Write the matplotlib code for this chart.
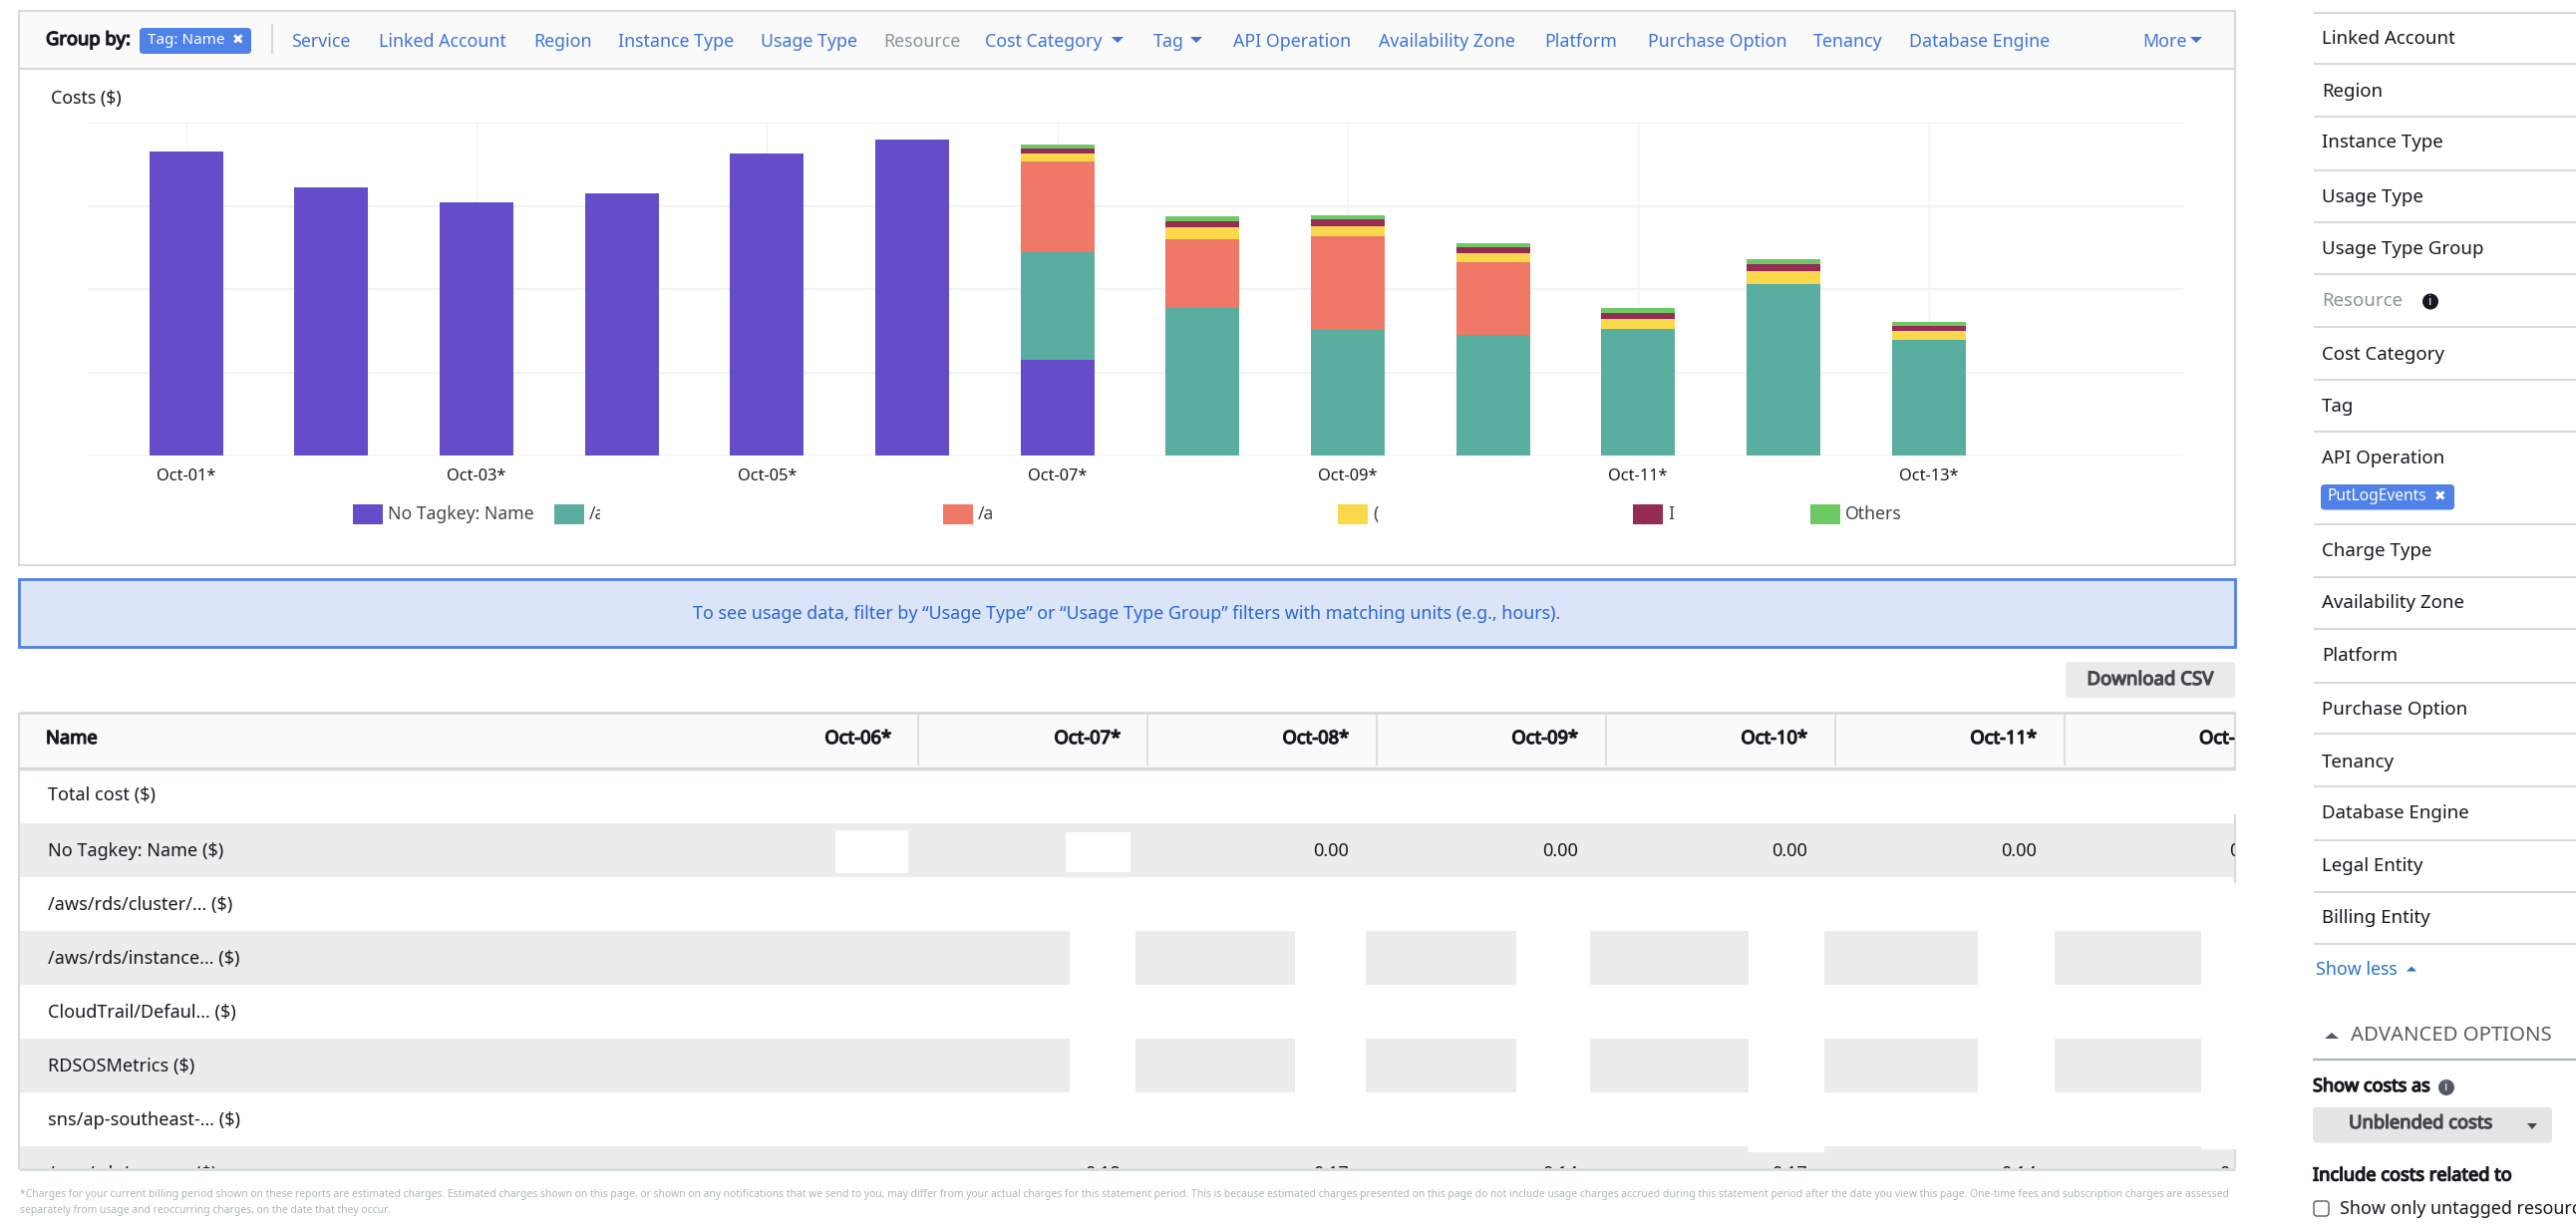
import matplotlib
matplotlib.use("Agg")
import matplotlib.pyplot as plt
import matplotlib.patheffects as pe
from matplotlib.patches import Rectangle, FancyBboxPatch, Circle, Polygon

plt.rcParams['font.family'] = ['Noto Sans', 'DejaVu Sans']

W, H = 2584, 1230

# chart data, y unit is arbitrary since the axis labels are blanked out in the screenshot
days = ['Oct-01*', 'Oct-02*', 'Oct-03*', 'Oct-04*', 'Oct-05*', 'Oct-06*', 'Oct-07*',
        'Oct-08*', 'Oct-09*', 'Oct-10*', 'Oct-11*', 'Oct-12*', 'Oct-13*']
no_tagkey = [365, 322, 304, 314.5, 362.6, 380, 115, 0, 0, 0, 0, 0, 0]
rds_cluster = [0, 0, 0, 0, 0, 0, 129.3, 177.6, 150.9, 144.5, 152, 205.6, 138.5]
rds_instance = [0, 0, 0, 0, 0, 0, 108.6, 82.6, 113, 87.4, 0.5, 0.3, 0.4]
cloudtrail = [0, 0, 0, 0, 0, 0, 10, 13.6, 12, 10.8, 11.1, 16, 10.3]
rdsos = [0, 0, 0, 0, 0, 0, 6, 7.9, 8, 7.9, 8, 7.5, 6]
others = [0, 0, 0, 0, 0, 0, 4.8, 5.6, 5.2, 4.8, 5.6, 6.5, 5.3]

series = [no_tagkey, rds_cluster, rds_instance, cloudtrail, rdsos, others]
colors = ['#654cc9', '#59aea0', '#f07866', '#f9d84c', '#962b54', '#6dc964']

legend_labels = ['No Tagkey: Name', '/a', '/a', '(', 'I', 'Others']
nav_items = ['Service', 'Linked Account', 'Region', 'Instance Type', 'Usage Type', 'Resource',
             'Cost Category', 'Tag', 'API Operation', 'Availability Zone', 'Platform',
             'Purchase Option', 'Tenancy', 'Database Engine', 'More']
row_names = ['Total cost ($)', 'No Tagkey: Name ($)', '/aws/rds/cluster/... ($)',
             '/aws/rds/instance... ($)', 'CloudTrail/Defaul... ($)', 'RDSOSMetrics ($)',
             'sns/ap-southeast-... ($)', '/aws/rds/proxy... ($)']
table_days = ['Oct-06*', 'Oct-07*', 'Oct-08*', 'Oct-09*', 'Oct-10*', 'Oct-11*']
no_tagkey_cells = ['0.00', '0.00', '0.00', '0.00', '0.00']
last_row_cells = ['0.18', '0.17', '0.14', '0.17', '0.14', '0.14']
side_items = ['Linked Account', 'Region', 'Instance Type', 'Usage Type', 'Usage Type Group',
              'Resource', 'Cost Category', 'Tag', 'API Operation', 'Charge Type',
              'Availability Zone', 'Platform', 'Purchase Option', 'Tenancy', 'Database Engine',
              'Legal Entity', 'Billing Entity']

BORDER = '#d5dbdb'
STRIPE = '#ebecec'
BLUE = '#4f81e6'
LINK = '#3f74d8'
TEXT = '#16191f'

fig = plt.figure(figsize=(W / 100, H / 100), dpi=100, facecolor='white')

# whole page in pixel coordinates for the console chrome around the chart
ui = fig.add_axes([0, 0, 1, 1])
ui.set_xlim(0, W)
ui.set_ylim(H, 0)
ui.axis('off')


def box(x0, y0, x1, y1, fc='none', ec='none', lw=0, z=1):
    ui.add_patch(Rectangle((x0, y0), x1 - x0, y1 - y0, fc=fc, ec=ec, lw=lw, zorder=z))


def line(x0, y0, x1, y1, c=BORDER, lw=1.5, z=3):
    ui.plot([x0, x1], [y0, y1], color=c, lw=lw, zorder=z, solid_capstyle='butt')


def label(x, y, s, size=12, c=TEXT, bold=False, ha='left', z=4, clip=None):
    t = ui.text(x, y, s, fontsize=size, color=c, ha=ha, va='center', zorder=z)
    # no bold face of Noto Sans gets picked up, so thicken the outline instead
    if bold:
        t.set_path_effects([pe.withStroke(linewidth=0.9, foreground=c)])
    if clip:
        x0, y0, x1, y1 = clip
        t.set_clip_on(True)
        t.set_clip_path(Rectangle((x0, y0), x1 - x0, y1 - y0, transform=ui.transData))
    return t


def tri(x, y, up=False, w=6, h=6, c=LINK):
    s = -1 if up else 1
    ui.add_patch(Polygon([(x - w, y - s * h / 2), (x + w, y - s * h / 2), (x, y + s * h / 2)],
                         fc=c, ec='none', zorder=4))


def chip(x0, y0, x1, y1, fc=BLUE, ec='none', z=3):
    ui.add_patch(FancyBboxPatch((x0 + 3, y0 + 3), x1 - x0 - 6, y1 - y0 - 6,
                                boxstyle='round,pad=3,rounding_size=4', fc=fc, ec=ec, zorder=z))


def info(x, y, r=8, c='#16191f'):
    ui.add_patch(Circle((x, y), r, fc=c, ec='none', zorder=4))
    ui.text(x, y, 'i', fontsize=9, color='white', fontweight='bold', ha='center', va='center', zorder=5)


# chart card
box(19, 11, 2242, 567, fc='white', ec=BORDER, lw=1.5)
box(19, 11, 2242, 69, fc='#fafafa', ec=BORDER, lw=1.5, z=2)
label(46, 40, 'Group by:', 13.2, bold=True)
chip(140, 28, 252, 54)
label(148, 41, 'Tag: Name', 11, c='white')
ui.text(239, 40, '\u2716', fontsize=10, color='white', family='DejaVu Sans', ha='center', va='center', zorder=4)
line(273, 24, 273, 54)

nav_x = [292, 380, 535, 620, 763, 886, 988, 1157, 1237, 1383, 1549, 1653, 1819, 1915, 2149]
for name, x in zip(nav_items, nav_x):
    label(x, 42, name, 12.8, c='#879596' if name == 'Resource' else LINK)
tri(1121, 40)
tri(1200, 40)
tri(2203, 40)

label(51, 99, 'Costs ($)', 12.8)

# legend, spacing is irregular because the names are blanked out in the screenshot
legend_x = [354, 556, 946, 1342, 1638, 1816]
legend_clip = [None, 602, 1000, None, None, None]
for name, col, x, cut in zip(legend_labels, colors, legend_x, legend_clip):
    box(x, 506, x + 30, 526, fc=col)
    label(x + 35, 516, name, 12.7, c='#44474b', clip=(x, 480, cut, 540) if cut else None)

# blue notice
box(19, 581, 2242, 649, fc='#dbe5f7', ec=BLUE, lw=2)
label(1130, 616, 'To see usage data, filter by \u201cUsage Type\u201d or \u201cUsage Type Group\u201d '
      'filters with matching units (e.g., hours).', 12.9, c='#2a66d6', ha='center')

# download button
chip(2072, 664, 2242, 700, fc='#e9ebeb')
label(2157, 682, 'Download CSV', 13.4, c='#44474b', bold=True, ha='center')

# table
box(19, 715, 2242, 771, fc='#fafafa')
line(19, 715, 2242, 715, lw=2)
line(19, 771, 2242, 771, lw=2.5)
line(19, 1173, 2242, 1173, lw=2)
line(19, 715, 19, 1173)
line(2242, 715, 2242, 773)
line(2242, 817, 2242, 886)
line(2242, 1153, 2242, 1172)
label(46, 741, 'Name', 13.2, bold=True)

head_right = [894, 1124, 1353, 1583, 1813, 2043]
for d, x in zip(table_days, head_right):
    label(x, 741, d, 13.2, bold=True, ha='right')
for x in [921, 1151, 1381, 1611, 1841, 2071]:
    line(x, 717, x, 768, lw=1.2)
label(2206, 741, 'Oct-', 13.2, bold=True)

box(19, 826, 2242, 880, fc=STRIPE)
# the two partly blanked rows
stripe_segments = [(19, 1073), (1139, 1299), (1370, 1521), (1595, 1754), (1830, 1984), (2061, 2208)]
for y0, y1 in [(934, 988), (1042, 1096)]:
    for x0, x1 in stripe_segments:
        box(x0, y0, x1, y1, fc=STRIPE)
box(19, 1150, 2242, 1172, fc=STRIPE)
box(1754, 1150, 1830, 1156, fc='white', z=2)
box(2208, 1150, 2242, 1153, fc='white', z=2)
box(838, 833, 911, 876, fc='white', z=2)
box(1069, 835, 1134, 875, fc='white', z=2)

for i, name in enumerate(row_names):
    last = i == len(row_names) - 1
    label(48, 798 + 54 * i + (i > 0) * 2, name, 13, clip=(19, 1100, 2242, 1172) if last else None)

for s, x in zip(no_tagkey_cells, [1353, 1583, 1813, 2043]):
    label(x, 854, s, 13, ha='right')
label(2236, 854, no_tagkey_cells[-1], 13, clip=(2200, 830, 2242, 880))
for s, x in zip(last_row_cells, [1124, 1353, 1583, 1813, 2043, 2262]):
    label(x, 1178, s, 13, ha='right', clip=(19, 1150, 2242, 1172))

# footer
label(20, 1198, '*Charges for your current billing period shown on these reports are estimated charges. '
      'Estimated charges shown on this page, or shown on any notifications that we send to you, may differ '
      'from your actual charges for this statement period. This is because estimated charges presented on '
      'this page do not include usage charges accrued during this statement period after the date you view '
      'this page. One-time fees and subscription charges are assessed', 7.45, c='#aab7b8')
label(20, 1214, 'separately from usage and reoccurring charges, on the date that they occur.', 7.45, c='#aab7b8')

# right sidebar
side_y = [38, 90.5, 142, 196.5, 248.6, 300.4, 354.5, 406.7, 458.5, 552, 603.6,
          656.6, 710.7, 763, 814.5, 868, 920]
for name, y in zip(side_items, side_y):
    label(2329, y + 1.5, name, 13.4, c='#879596' if name == 'Resource' else TEXT)
for y in [12.6, 64, 117, 171, 222.5, 275, 328, 381, 433, 526, 579, 631, 685, 736, 789, 843, 895, 947]:
    line(2321, y, W, y)
info(2438, 302.5)
chip(2328, 486, 2462, 511.5)
label(2334, 498, 'PutLogEvents', 11.2, c='white')
ui.text(2448, 498, '\u2716', fontsize=10, color='white', family='DejaVu Sans', ha='center', va='center', zorder=4)

label(2323, 973, 'Show less', 12.8, c='#2b74c4')
tri(2419, 972, up=True, w=5, h=5, c='#2b74c4')
tri(2339, 1039, up=True, w=7, h=6, c='#545b64')
label(2358, 1039, 'ADVANCED OPTIONS', 14.6, c='#545b64')
line(2320, 1063, W, 1063, c='#aab7b8', lw=1.5)
label(2320, 1090, 'Show costs as', 13, bold=True)
info(2454, 1091, c='#545b64')
chip(2320, 1111, 2560, 1146.5, fc='#e4e5e5')
label(2428, 1127, 'Unblended costs', 13.2, c='#44474b', bold=True, ha='center')
tri(2540, 1130, w=5, h=6, c='#44474b')
label(2320, 1179.5, 'Include costs related to', 13.1, bold=True)
ui.add_patch(FancyBboxPatch((2323, 1207), 11, 11, boxstyle='round,pad=2,rounding_size=3',
                            fc='white', ec='#545b64', lw=1, zorder=3))
label(2347, 1213, 'Show only untagged resources', 12.9)

# the stacked bars
ax = fig.add_axes([89 / W, 1 - 457 / H, (2190 - 89) / W, 334 / H])
ax.patch.set_alpha(0)
xs = list(range(len(days)))
bottom = [0] * len(days)
for vals, col in zip(series, colors):
    ax.bar(xs, vals, width=0.508, bottom=bottom, color=col, zorder=3)
    bottom = [b + v for b, v in zip(bottom, vals)]

ax.set_xlim(-0.67, 13.754)
ax.set_ylim(0, 400)
ax.set_yticks([0, 100, 200, 300, 400])
ax.set_yticklabels([])
ax.set_xticks(xs[::2])
ax.set_xticklabels(days[::2], fontsize=11.8, color=TEXT)
ax.tick_params(length=0, pad=9)
ax.grid(axis='y', color='#f2f3f3', lw=1.5, zorder=0)
ax.grid(axis='x', color='#f2f3f3', lw=1, zorder=0)
ax.set_axisbelow(True)
for s in ax.spines.values():
    s.set_visible(False)

fig.savefig('out.png', dpi=100)
